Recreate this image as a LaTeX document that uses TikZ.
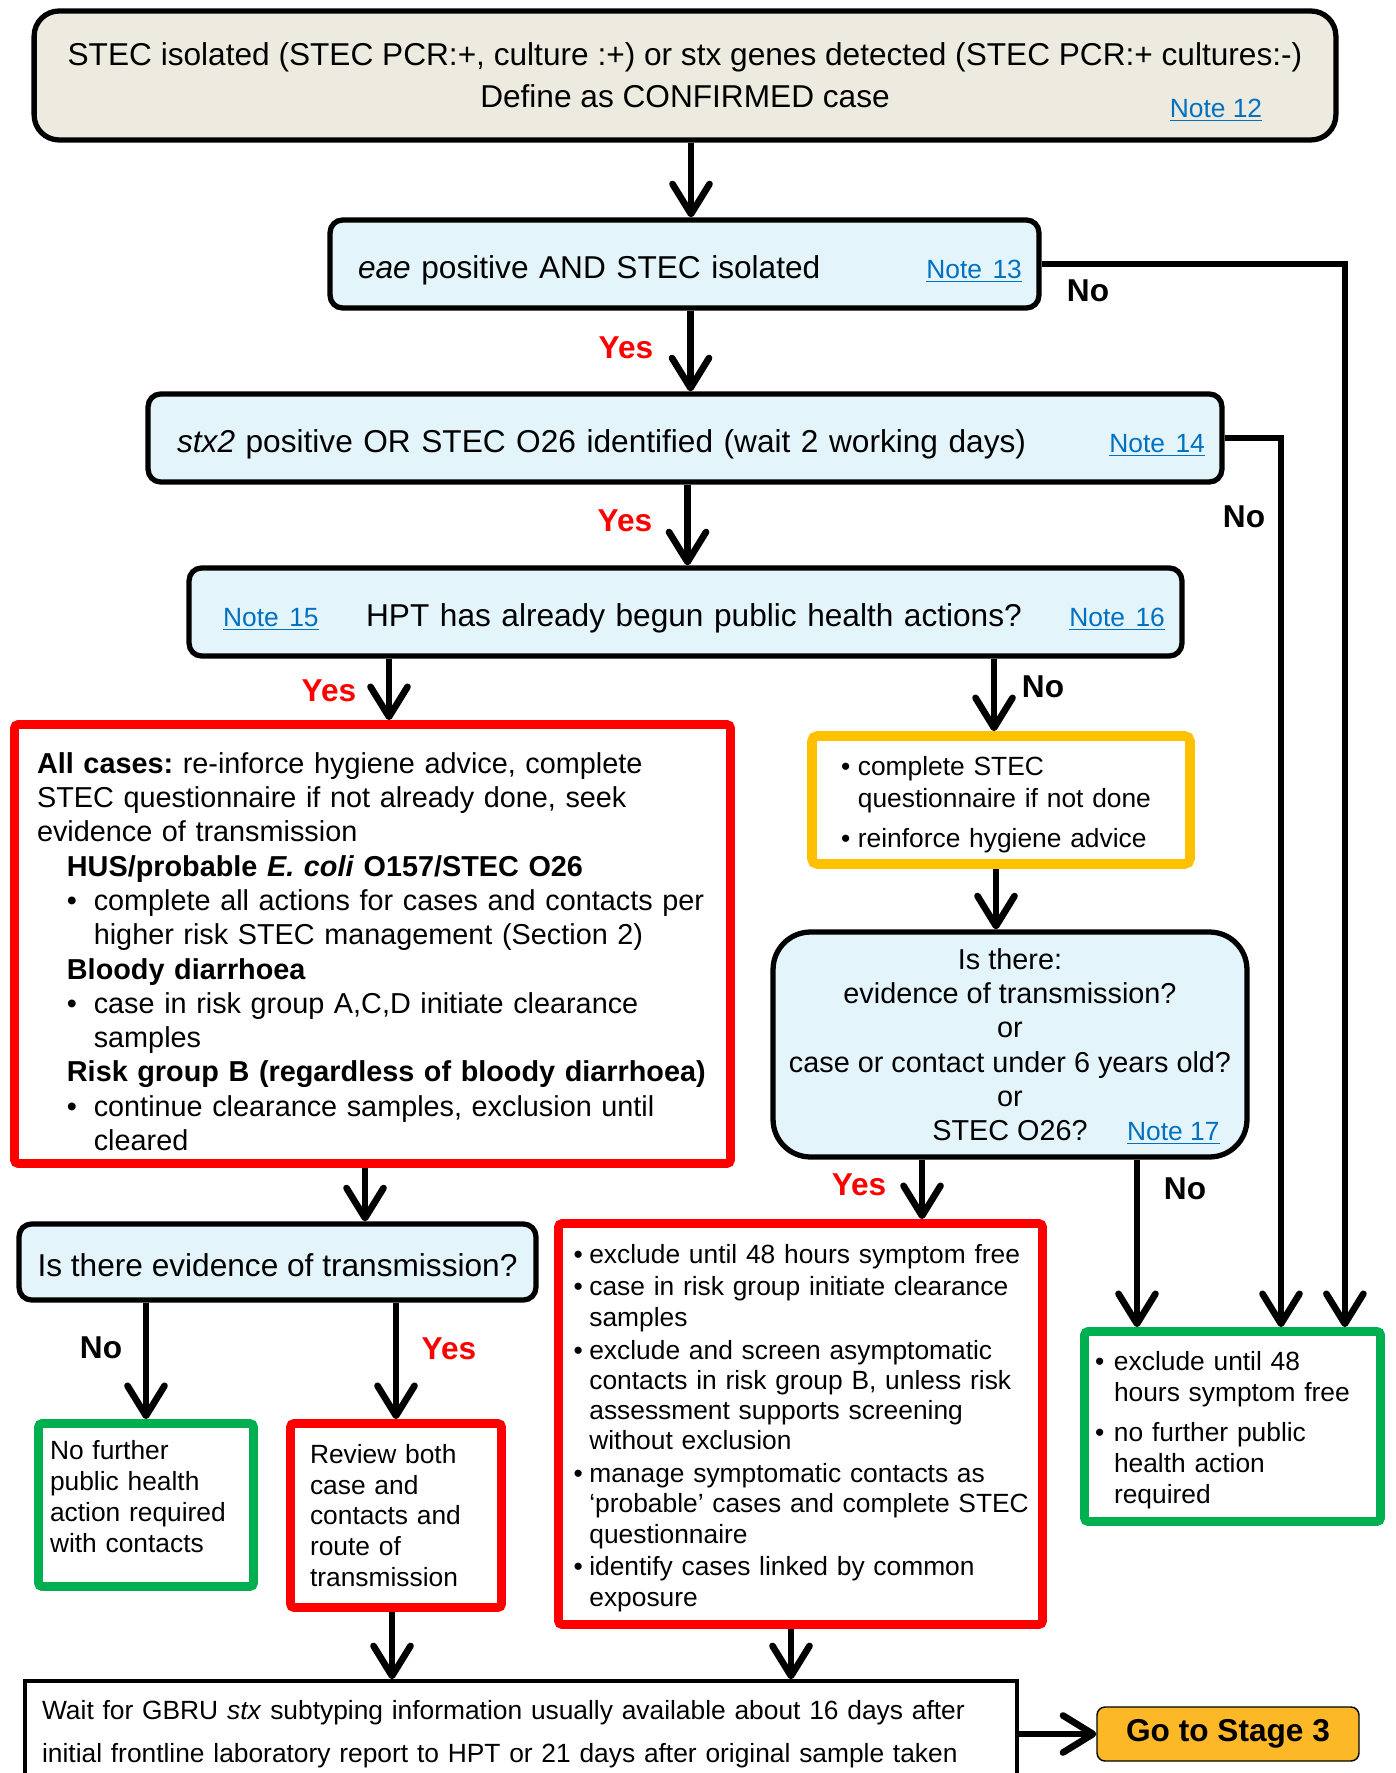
\documentclass[tikz,border=0pt]{standalone}
\usepackage{fontspec}
\setmainfont{Liberation Sans}
\usepackage{tikz}
\usetikzlibrary{arrows.meta}
\frenchspacing

\definecolor{beige}{HTML}{EDEBE0}
\definecolor{paleblue}{HTML}{E3F4FB}
\definecolor{alertred}{HTML}{FF0000}
\definecolor{okgreen}{HTML}{00B050}
\definecolor{amber}{HTML}{FFC000}
\definecolor{stagefill}{HTML}{FDB827}
\definecolor{notelink}{HTML}{0070C0}

\newcommand{\fbig}{\fontsize{18}{23.8}\selectfont}
\newcommand{\fmid}{\fontsize{16.4}{19.5}\selectfont}
\newcommand{\fsml}{\fontsize{15}{17.5}\selectfont}
\newcommand{\notelnk}[1]{{\fsml\color{notelink}\underline{#1}}}
\newcommand{\bul}[1]{\makebox[#1][l]{\textbullet}}

\begin{document}
\begin{tikzpicture}[x=0.02cm, y=-0.02cm,
  box/.style={draw, line width=3pt, fill=paleblue, rounded corners=0.25cm, minimum height=1.76cm},
  oneline/.style={text height=17pt, text depth=0pt},
  redbox/.style={draw=alertred, line width=5pt, fill=white, rounded corners=2pt},
  greenbox/.style={draw=okgreen, line width=5pt, fill=white, rounded corners=2pt},
  arr/.style={line width=3.8pt, -{Straight Barb[length=0.6cm,width=0.74cm,round]}},
  yes/.style={text=alertred, font=\fbig\bfseries},
  no/.style={font=\fbig\bfseries}]

\clip (0,0) rectangle (1395,1773);

\node[draw, line width=3pt, fill=beige, rounded corners=0.5cm, minimum width=26.04cm,
  minimum height=2.58cm, align=center, font=\fbig] (confirmed) at (685,75.5)
  {STEC isolated (STEC PCR:+, culture :+) or stx genes detected (STEC PCR:+ cultures:-)\\Define as CONFIRMED case};
\node (note12) at (1216,110) {\notelnk{Note 12}};

\node[box, oneline, text width=13.5cm, inner xsep=0.34cm, align=left, font=\fbig] (eae) at (684.5,264)
  {\hspace*{0.22cm}\textit{eae} positive AND STEC isolated\hfill\notelnk{Note 13}};
\node[box, oneline, text width=20.8cm, inner xsep=0.34cm, align=left, font=\fbig] (stxtwo) at (685,438)
  {\hspace*{0.24cm}\textit{stx2} positive OR STEC O26 identified (wait 2 working days)\hfill\notelnk{Note 14}};
\node[box, oneline, text width=19.18cm, inner xsep=0.34cm, align=left, font=\fbig] (hpt) at (685.5,612)
  {\hspace*{0.34cm}\notelnk{Note 15}\hfill HPT has already begun public health actions?\hfill\notelnk{Note 16}};

% public health actions already begun
\node[redbox, minimum width=14.32cm, minimum height=8.78cm, text width=13.42cm, inner xsep=0.45cm,
  text depth=206pt, align=left, font=\fmid] (begun) at (372.5,944)
  {\textbf{All cases:} re-inforce hygiene advice, complete\\
   STEC questionnaire if not already done, seek\\
   evidence of transmission\\
   \hspace*{17pt}\textbf{HUS/probable \textit{E. coli} O157/STEC O26}\\
   \hspace*{17pt}\bul{15.3pt}complete all actions for cases and contacts per\\
   \hspace*{32.3pt}higher risk STEC management (Section 2)\\
   \hspace*{17pt}\textbf{Bloody diarrhoea}\\
   \hspace*{17pt}\bul{15.3pt}case in risk group A,C,D initiate clearance\\
   \hspace*{32.3pt}samples\\
   \hspace*{17pt}\mbox{\textbf{Risk group B (regardless of bloody diarrhoea)}}\\
   \hspace*{17pt}\bul{15.3pt}continue clearance samples, exclusion until\\
   \hspace*{32.3pt}cleared};

\node[draw=amber, line width=5.5pt, rounded corners=3pt, minimum width=7.56cm, minimum height=2.56cm,
  text width=6.4cm, inner xsep=0.58cm, text depth=38.2pt, align=left, font=\fontsize{15}{18}\selectfont]
  (notbegun) at (1001,800)
  {\bul{9.6pt}complete STEC\\\hspace*{9.6pt}questionnaire if not done\\[4.6pt]\bul{9.6pt}reinforce hygiene advice};

\node[box, rounded corners=0.75cm, minimum width=9.48cm, minimum height=4.5cm, align=center,
  text depth=-3.8pt, font=\fmid] (isthere) at (1010,1044.5)
  {Is there:\\evidence of transmission?\\or\\case or contact under 6 years old?\\or\\
   STEC O26?\rlap{\hspace{22.5pt}\notelnk{Note 17}}};

\node[box, oneline, minimum width=10.34cm, minimum height=1.52cm, font=\fbig] (evidence) at (277.5,1262)
  {Is there evidence of transmission?};

\node[greenbox, minimum width=4.3cm, minimum height=3.26cm, text width=3.84cm, inner xsep=0.23cm,
  text depth=62.4pt, align=left, font=\fontsize{15}{17.6}\selectfont] (nofurther) at (146,1505)
  {No further\\public health\\action required\\with contacts};
\node[redbox, minimum width=4.22cm, minimum height=3.68cm, text width=3.44cm, inner xsep=0.39cm,
  align=left, font=\fontsize{15}{17.4}\selectfont] (review) at (396,1515.5)
  {Review both\\case and\\contacts and\\route of\\transmission};

\node[redbox, minimum width=9.68cm, minimum height=8.02cm, text width=9.08cm, inner xsep=0.3cm,
  text depth=194pt, align=left, font=\fontsize{15}{17.2}\selectfont] (exclude) at (800.5,1424)
  {\bul{9pt}exclude until 48 hours symptom free\\[1.5pt]
   \bul{9pt}case in risk group initiate clearance\\
   \hspace*{9pt}samples\\[1.5pt]
   \bul{9pt}exclude and screen asymptomatic\\
   \hspace*{9pt}contacts in risk group B, unless risk\\
   \hspace*{9pt}assessment supports screening\\
   \hspace*{9pt}without exclusion\\[1.5pt]
   \bul{9pt}manage symptomatic contacts as\\
   \hspace*{9pt}\mbox{`probable' cases and complete STEC}\\
   \hspace*{9pt}questionnaire\\[1.5pt]
   \bul{9pt}identify cases linked by common\\
   \hspace*{9pt}exposure};

\node[greenbox, minimum width=5.92cm, minimum height=3.8cm, text width=5.5cm, inner xsep=0.21cm,
  text depth=74.2pt, align=left, font=\fontsize{15}{17.6}\selectfont] (nohealth) at (1232.5,1426.5)
  {\bul{10.8pt}exclude until 48\\\hspace*{10.8pt}hours symptom free\\[5pt]
   \bul{10.8pt}no further public\\\hspace*{10.8pt}health action\\\hspace*{10.8pt}required};

\node[draw, line width=2pt, minimum width=19.84cm, minimum height=2.12cm, text width=19.16cm,
  inner xsep=0.34cm, align=left, font=\fontsize{15}{24.4}\selectfont] (gbru) at (521,1734)
  {Wait for GBRU \textit{stx} subtyping information usually available about 16 days after\\
   initial frontline laboratory report to HPT or 21 days after original sample taken};
\node[draw, line width=0.8pt, fill=stagefill, rounded corners=0.16cm, minimum width=5.24cm,
  minimum height=1.08cm, font=\fbig\bfseries] (stage3) at (1228,1734) {Go to Stage 3};

\draw[arr] ([xshift=0.12cm]confirmed.south) -- ([xshift=0.12cm]confirmed.south |- eae.north);
\draw[arr] ([xshift=0.12cm]eae.south) -- ([xshift=0.12cm]eae.south |- stxtwo.north);
\draw[arr] ([xshift=0.05cm]stxtwo.south) -- ([xshift=0.05cm]stxtwo.south |- hpt.north);
\draw[arr] (eae.east) -| ([xshift=-0.8cm]nohealth.north east);
\draw[arr] (stxtwo.east) -| ([xshift=0.97cm]nohealth.north);
\draw[arr] ([xshift=0.33cm]begun.north |- hpt.south) -- ([xshift=0.33cm]begun.north);
\draw[arr] ([xshift=-0.14cm]notbegun.north |- hpt.south) -- ([xshift=-0.14cm]notbegun.north);
\draw[arr] ([xshift=-0.1cm]notbegun.south) -- ([xshift=-0.1cm]notbegun.south |- isthere.north);
\draw[arr] ([xshift=-1.76cm]isthere.south) -- ([xshift=-1.76cm]isthere.south |- exclude.north);
\draw[arr] ([xshift=2.54cm]isthere.south) -- ([xshift=2.54cm]isthere.south |- nohealth.north);
\draw[arr] ([xshift=-0.15cm]begun.south) -- ([xshift=-0.15cm]begun.south |- evidence.north);
\draw[arr] (nofurther.north |- evidence.south) -- (nofurther.north);
\draw[arr] (review.north |- evidence.south) -- (review.north);
\draw[arr] ([xshift=-0.08cm]review.south) -- ([xshift=-0.08cm]review.south |- gbru.north);
\draw[arr] ([xshift=-0.19cm]exclude.south) -- ([xshift=-0.19cm]exclude.south |- gbru.north);
\draw[arr] (gbru.east) -- (stage3.west);

\node[no] (no1) at (1088,291) {No};
\node[yes] (yes1) at (626,348) {Yes};
\node[no] (no2) at (1244,517) {No};
\node[yes] (yes2) at (625,521) {Yes};
\node[yes] (yes3) at (329,691) {Yes};
\node[no] (no3) at (1043,687) {No};
\node[yes] (yes4) at (859,1185) {Yes};
\node[no] (no4) at (1185,1189) {No};
\node[no] (no5) at (101,1348) {No};
\node[yes] (yes5) at (449,1349) {Yes};
\end{tikzpicture}
\end{document}
